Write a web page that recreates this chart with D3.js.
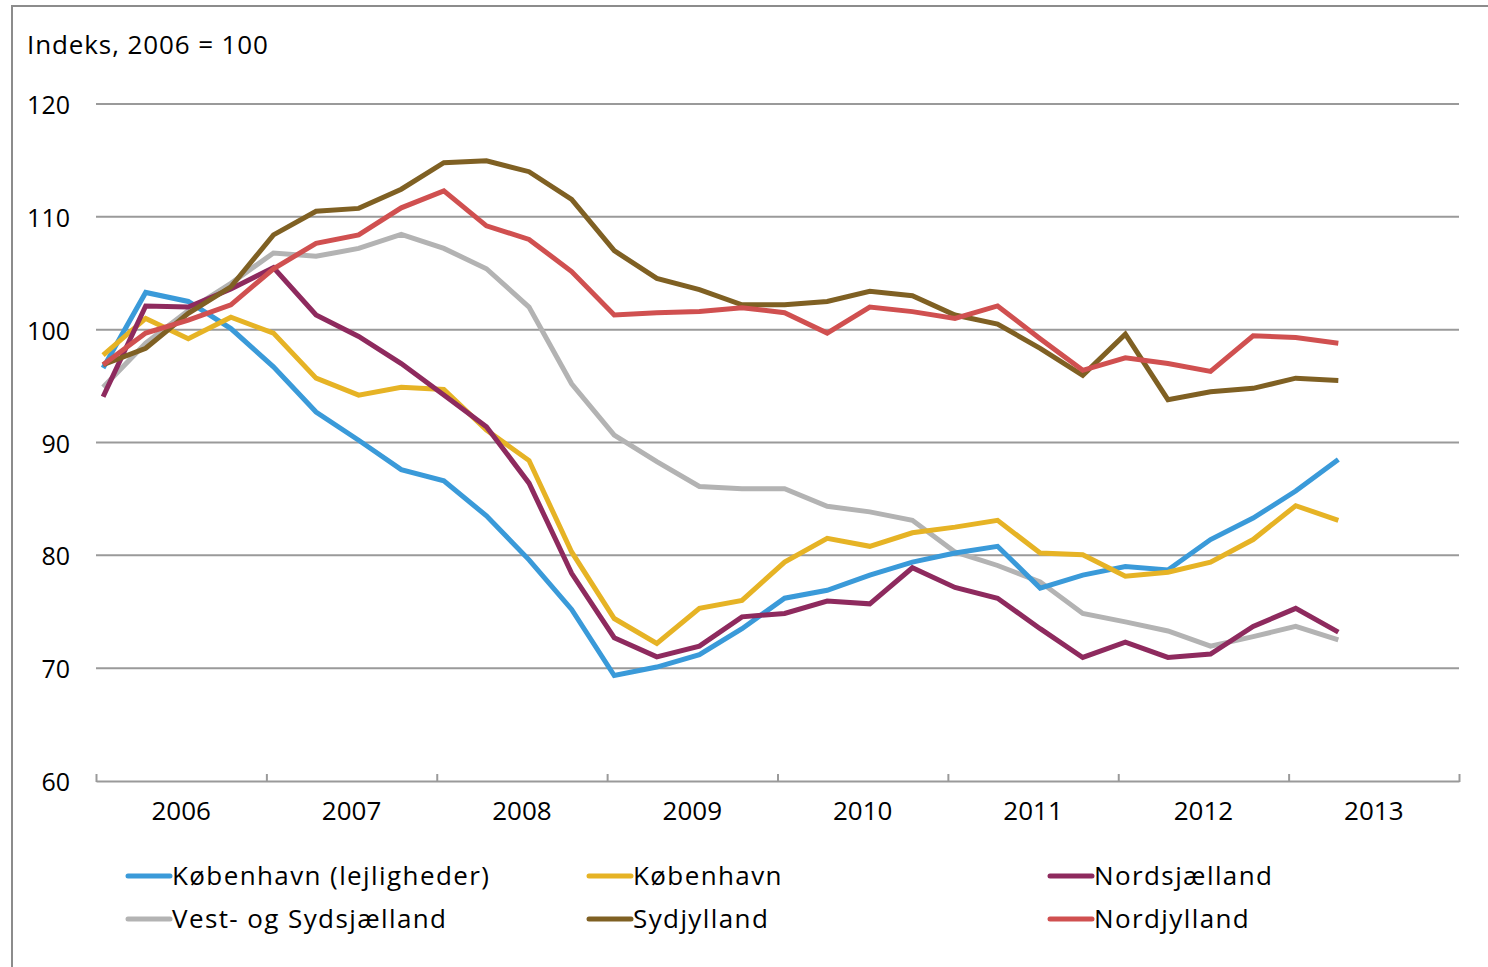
<!DOCTYPE html>
<html>
<head>
<meta charset="utf-8">
<script src="https://cdn.jsdelivr.net/npm/d3@7"></script>
<style>
  html, body { margin: 0; padding: 0; background: #fff; }
  svg { display: block; }
  text { font-family: "Open Sans", "DejaVu Sans", sans-serif; fill: #000; }
</style>
</head>
<body>
<svg id="chart" width="1488" height="967"></svg>
<script>
// ---- data ----
const years = ["2006", "2007", "2008", "2009", "2010", "2011", "2012", "2013"];
const yTicks = [60, 70, 80, 90, 100, 110, 120];
const yLabel = "Indeks, 2006 = 100";

// quarterly observations, 2006 Q1 .. 2013 Q2
const seriesNames = ["København (lejligheder)", "København", "Nordsjælland",
                     "Vest- og Sydsjælland", "Sydjylland", "Nordjylland"];
const seriesColors = ["#3a9ad9", "#e6b325", "#8e2a5e", "#b3b3b3", "#7f6023", "#d05050"];

const kbhLejl = [96.6, 103.3, 102.5, 100.1, 96.7, 92.7, 90.2, 87.6, 86.6, 83.5,
                 79.6, 75.2, 69.35, 70.1, 71.2, 73.5, 76.2, 76.9, 78.25, 79.4,
                 80.2, 80.8, 77.1, 78.25, 79.0, 78.7, 81.4, 83.3, 85.7, 88.5];
const kbh = [97.75, 101.0, 99.2, 101.1, 99.7, 95.7, 94.2, 94.9, 94.7, 91.1,
             88.4, 80.3, 74.4, 72.2, 75.3, 76.0, 79.4, 81.5, 80.8, 82.0,
             82.5, 83.1, 80.2, 80.05, 78.15, 78.5, 79.4, 81.4, 84.4, 83.1];
const nordsj = [94.05, 102.1, 102.0, 103.6, 105.5, 101.3, 99.4, 97.0, 94.2, 91.4,
                86.4, 78.4, 72.7, 71.0, 71.95, 74.55, 74.85, 75.95, 75.7, 78.9,
                77.15, 76.2, 73.5, 70.95, 72.3, 70.95, 71.25, 73.7, 75.3, 73.2];
const vestSyd = [94.9, 98.8, 101.7, 104.1, 106.8, 106.5, 107.2, 108.45, 107.2, 105.4,
                 102.0, 95.2, 90.65, 88.3, 86.1, 85.9, 85.9, 84.35, 83.85, 83.1,
                 80.3, 79.1, 77.65, 74.85, 74.1, 73.3, 71.95, 72.8, 73.7, 72.5];
const sydjyl = [96.9, 98.35, 101.45, 103.8, 108.4, 110.5, 110.75, 112.45, 114.8, 114.97,
                114.0, 111.55, 107.0, 104.55, 103.55, 102.2, 102.2, 102.5, 103.4, 103.0,
                101.3, 100.5, 98.35, 95.95, 99.6, 93.8, 94.5, 94.8, 95.7, 95.5];
const nordjyl = [96.9, 99.7, 100.85, 102.2, 105.4, 107.65, 108.4, 110.8, 112.3, 109.2,
                 108.0, 105.15, 101.3, 101.5, 101.6, 101.95, 101.5, 99.7, 102.0, 101.6,
                 101.0, 102.1, 99.2, 96.4, 97.5, 97.0, 96.3, 99.45, 99.3, 98.8];

const seriesValues = [kbhLejl, kbh, nordsj, vestSyd, sydjyl, nordjyl];

// ---- layout ----
const svg = d3.select("#chart");
const plotLeft = 96, plotRight = 1459, plotTop = 104, plotBottom = 781;

// frame
svg.append("path")
  .attr("d", `M12,967 L12,6 L1488,6`)
  .attr("fill", "none").attr("stroke", "#8c8c8c").attr("stroke-width", 2);

// x in months since Jan 2006
const x = d3.scaleLinear().domain([0, years.length * 12]).range([plotLeft, plotRight]);
const y = d3.scaleLinear().domain([60, 120]).range([plotBottom, plotTop]);

// gridlines
svg.append("g").selectAll("line")
  .data(yTicks.filter(d => d > 60))
  .join("line")
  .attr("x1", plotLeft).attr("x2", plotRight)
  .attr("y1", d => y(d)).attr("y2", d => y(d))
  .attr("stroke", "#9a9a9a").attr("stroke-width", 2);

// y labels
svg.append("g").selectAll("text")
  .data(yTicks)
  .join("text")
  .attr("x", 70).attr("y", d => y(d) + 10)
  .attr("text-anchor", "end")
  .attr("font-size", 25)
  .text(d => d);

svg.append("text")
  .attr("x", 27).attr("y", 54)
  .attr("font-size", 26)
  .attr("letter-spacing", 0.9)
  .text(yLabel);

// x axis (ticks upward)
const xAxis = d3.axisTop(x)
  .tickValues(d3.range(0, years.length * 12 + 1, 12))
  .tickSize(8).tickSizeOuter(0).tickFormat("");
const gx = svg.append("g").attr("transform", `translate(0,${plotBottom})`).call(xAxis);
gx.select(".domain").attr("stroke", "#9a9a9a").attr("stroke-width", 2);
gx.selectAll(".tick line").attr("stroke", "#9a9a9a").attr("stroke-width", 2)
  .attr("transform", "translate(0,1)");

svg.append("g").selectAll("text")
  .data(years)
  .join("text")
  .attr("x", (d, i) => x(i * 12 + 6))
  .attr("y", 820)
  .attr("text-anchor", "middle")
  .attr("font-size", 26)
  .text(d => d);

// lines
const line = d3.line()
  .x((d, i) => x(i * 3 + 0.5))
  .y(d => y(d));

const order = [3, 0, 1, 2, 4, 5];
svg.append("g").selectAll("path")
  .data(order)
  .join("path")
  .attr("d", k => line(seriesValues[k]))
  .attr("fill", "none")
  .attr("stroke", k => seriesColors[k])
  .attr("stroke-width", 5)
  .attr("stroke-linejoin", "miter");

// legend
const legX = [128, 589, 1050];
const legY = [876, 919];
const leg = svg.append("g").selectAll("g")
  .data(seriesNames)
  .join("g")
  .attr("transform", (d, i) => `translate(${legX[i % 3]},${legY[Math.floor(i / 3)]})`);
leg.append("line")
  .attr("x1", 0).attr("x2", 42).attr("y1", 0).attr("y2", 0)
  .attr("stroke", (d, i) => seriesColors[i]).attr("stroke-width", 5)
  .attr("stroke-linecap", "round");
leg.append("text")
  .attr("x", 44).attr("y", 9)
  .attr("font-size", 26)
  .attr("letter-spacing", 1.4)
  .text(d => d);
</script>
</body>
</html>
